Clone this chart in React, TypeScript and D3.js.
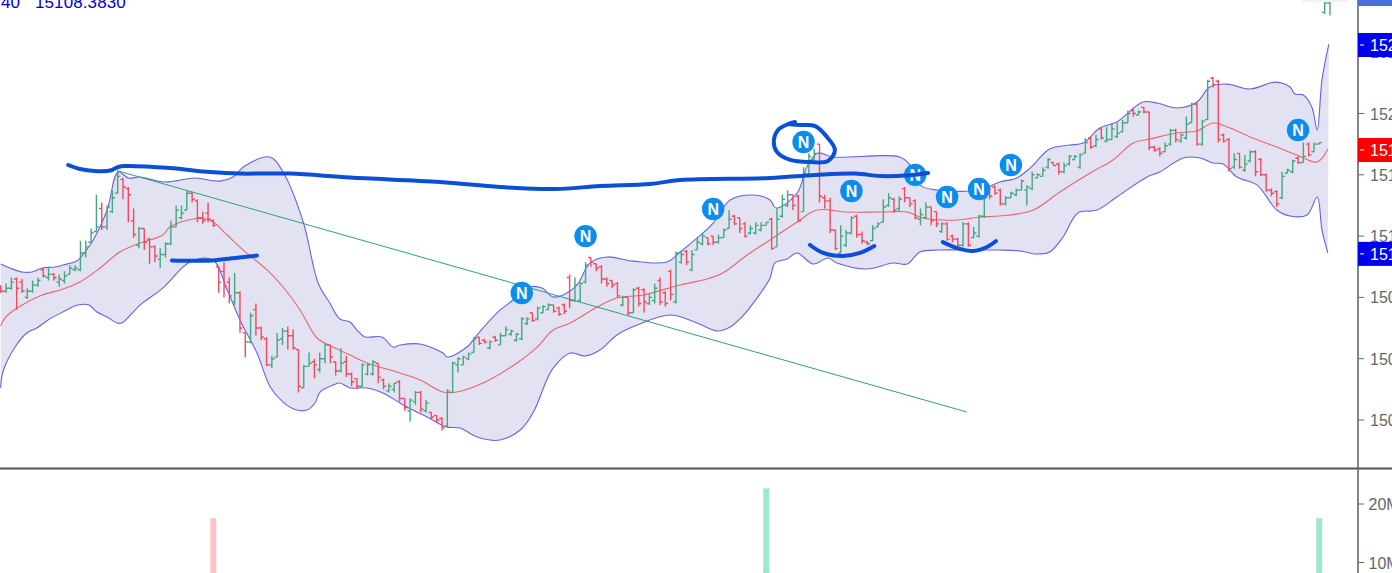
import React from "react";
import * as d3 from "d3";

const opens = [15087,15084,15086,15092,15090,15080,15084,15088,15098,15093,
15095,15090,15091,15095,15098,15098,15109,15116,15123,15138,
15126,15136,15148,15157,15151,15130,15114,15125,15118,15113,
15105,15108,15115,15126,15132,15137,15148,15143,15132,15135,
15130,15100,15097,15090,15077,15083,15057,15051,15072,15060,
15053,15036,15041,15053,15058,15055,15046,15021,15035,15038,
15033,15040,15049,15038,15032,15038,15030,15027,15022,15030,
15030,15037,15026,15019,15020,15025,15014,15006,15012,15018,
15006,15005,15003,15001,14996,15018,15036,15036,15040,15044,
15054,15052,15047,15054,15049,15055,15056,15052,15053,15063,
15070,15066,15070,15072,15075,15073,15075,15093,15078,15078,
15090,15106,15102,15100,15092,15091,15089,15075,15080,15070,
15086,15085,15076,15078,15091,15083,15097,15077,15103,15110,
15098,15111,15115,15119,15120,15116,15119,15125,15133,15132,
15128,15122,15122,15124,15127,15131,15113,15133,15140,15147,
15146,15136,15160,15170,15180,15145,15143,15124,15109,15114,
15122,15133,15121,15116,15117,15126,15129,15140,15144,15138,
15151,15145,15143,15131,15132,15139,15136,15123,15128,15120,
15118,15114,15128,15119,15120,15133,15152,15152,15150,15141,
15145,15147,15150,15150,15151,15158,15159,15165,15168,15167,
15162,15167,15170,15165,15174,15184,15179,15190,15182,15183,
15185,15188,15194,15202,15199,15204,15201,15178,15177,15175,
15180,15189,15182,15184,15194,15206,15180,15196,15223,15221,
15186,15183,15165,15174,15163,15169,15175,15170,15160,15150,
15149,15145,15161,15162,15171,15168,15180,15175,15180,15266,15272];

const highs = [15088,15089,15093,15093,15092,15086,15091,15093,15099,15100,
15096,15095,15097,15101,15101,15117,15117,15125,15147,15142,
15140,15150,15163,15158,15152,15138,15126,15125,15119,15114,
15112,15116,15130,15140,15140,15150,15149,15144,15136,15142,
15131,15100,15103,15093,15096,15084,15057,15070,15076,15061,
15054,15042,15057,15060,15061,15059,15046,15036,15044,15040,
15044,15050,15049,15038,15047,15042,15031,15027,15037,15037,
15039,15037,15027,15024,15024,15026,15014,15014,15019,15019,
15013,15005,15003,15002,15020,15038,15041,15042,15044,15054,
15054,15053,15052,15055,15057,15061,15059,15057,15067,15067,
15070,15074,15075,15076,15075,15074,15076,15095,15093,15090,
15103,15106,15102,15101,15093,15091,15090,15081,15080,15086,
15087,15086,15082,15089,15093,15084,15098,15110,15110,15111,
15111,15119,15122,15119,15120,15121,15125,15137,15134,15132,
15129,15127,15129,15129,15129,15132,15138,15147,15150,15147,
15147,15165,15174,15177,15180,15147,15145,15124,15127,15124,
15133,15134,15123,15117,15127,15129,15144,15148,15145,15146,
15152,15145,15144,15138,15142,15139,15136,15129,15129,15121,
15119,15129,15129,15126,15134,15147,15153,15153,15151,15146,
15149,15151,15157,15153,15162,15161,15165,15171,15168,15168,
15168,15173,15173,15174,15184,15185,15186,15191,15191,15194,
15194,15196,15202,15203,15202,15204,15201,15179,15178,15181,
15190,15190,15187,15198,15207,15207,15196,15222,15224,15222,
15187,15184,15174,15174,15173,15176,15176,15171,15161,15151,
15150,15162,15164,15170,15172,15181,15181,15181,15181,15277,15277];

const lows = [15083,15083,15085,15072,15083,15079,15083,15087,15093,15091,
15091,15087,15089,15095,15097,15097,15106,15116,15123,15124,
15124,15135,15148,15144,15129,15119,15112,15111,15102,15103,
15099,15106,15114,15126,15131,15137,15142,15129,15128,15129,
15126,15083,15080,15076,15075,15057,15041,15050,15055,15052,
15035,15034,15041,15049,15046,15046,15018,15021,15035,15027,
15031,15037,15037,15029,15031,15028,15022,15020,15022,15029,
15029,15024,15020,15018,15018,15012,15006,14999,15010,15005,
15005,15000,14998,14993,14995,15018,15031,15036,15039,15044,
15049,15050,15046,15051,15049,15055,15055,15051,15052,15062,
15064,15065,15070,15072,15070,15068,15069,15073,15077,15077,
15089,15100,15097,15089,15087,15086,15080,15074,15068,15070,
15074,15070,15075,15076,15075,15074,15078,15076,15102,15101,
15097,15111,15114,15114,15114,15115,15119,15125,15127,15122,
15119,15121,15121,15123,15127,15111,15113,15132,15139,15137,
15129,15136,15159,15170,15142,15138,15122,15111,15109,15113,
15121,15119,15115,15114,15117,15126,15129,15139,15135,15136,
15142,15139,15131,15127,15131,15127,15126,15122,15117,15116,
15113,15113,15113,15119,15119,15132,15144,15147,15140,15140,
15145,15146,15150,15140,15150,15158,15159,15164,15166,15160,
15161,15166,15170,15164,15174,15177,15178,15183,15181,15183,
15184,15188,15194,15198,15199,15200,15176,15175,15172,15175,
15179,15181,15181,15183,15194,15179,15179,15196,15217,15181,
15181,15162,15164,15164,15162,15168,15159,15159,15149,15146,
15139,15144,15161,15161,15167,15168,15172,15175,15180,15265,15264];

const closes = [15084,15086,15090,15086,15084,15084,15088,15091,15094,15095,
15093,15092,15094,15099,15099,15109,15113,15122,15126,15126,
15139,15145,15159,15152,15147,15121,15125,15116,15113,15107,
15108,15115,15126,15137,15135,15148,15144,15132,15130,15131,
15127,15090,15087,15081,15083,15060,15051,15068,15060,15054,
15036,15040,15052,15058,15055,15047,15022,15035,15037,15036,
15040,15049,15041,15032,15037,15030,15025,15022,15036,15036,
15038,15028,15022,15022,15024,15014,15008,15013,15018,15007,
15011,15002,15000,14995,15019,15037,15040,15041,15043,15053,
15050,15051,15051,15052,15055,15059,15058,15056,15066,15066,
15065,15073,15074,15075,15071,15069,15071,15078,15088,15089,
15101,15103,15099,15092,15089,15088,15081,15080,15070,15085,
15076,15077,15080,15086,15077,15076,15082,15109,15108,15103,
15108,15116,15120,15115,15116,15119,15124,15131,15128,15125,
15120,15125,15127,15127,15129,15112,15131,15144,15147,15140,
15130,15161,15172,15174,15146,15143,15124,15112,15120,15122,
15132,15121,15117,15115,15125,15128,15139,15145,15137,15144,
15145,15141,15132,15134,15139,15130,15128,15128,15118,15118,
15114,15128,15114,15122,15133,15145,15146,15148,15141,15145,
15148,15150,15156,15152,15160,15160,15163,15170,15166,15162,
15166,15172,15172,15173,15181,15178,15183,15184,15183,15190,
15187,15194,15200,15200,15201,15201,15178,15176,15174,15179,
15189,15183,15186,15193,15206,15180,15195,15221,15219,15183,
15182,15164,15170,15165,15167,15175,15162,15160,15150,15148,
15141,15159,15163,15169,15168,15172,15173,15180,15181,15272,15277];

const upperIndex = [0,1.7,4,5.9,7.8,10.2,11.7,14.3,15.1,17.4,20,22.1,24,26.2,30.9,36.5,41.2,43.7,45.9,50.6,53.1,56.9,59.7,61.9,63.8,65.7,67,68.5,71.7,73.8,75.1,78.9,83.2,84,87.7,89.6,93.3,96.4,99.5,101.8,103.9,105.8,108.4,110.8,114,118.9,125.3,127.8,131,134,137.2,141.5,144.7,145.8,149.8,151.6,153.7,156.5,169.1,171,172.9,176.1,184.2,187.9,191.1,193.6,197.3,201.1,203.6,206.7,209.9,214.8,217.5,221.2,225,227.4,230.6,235,239.8,242.5,243.4,245,246.6,247.6,248.5,249.8];
const upperPrice = [15101.8,15099.2,15096.6,15096.6,15099.2,15099.8,15101.1,15103.7,15106.4,15117.5,15137,15161.8,15157.9,15158.6,15155.3,15157.9,15155.9,15158.6,15165.7,15171.6,15161.8,15129.2,15089.4,15076.3,15065.9,15063.9,15058.7,15054.2,15054.2,15047.6,15048.9,15049.6,15043.7,15041.1,15047.6,15055.5,15069.8,15078.3,15086.8,15086.1,15080.3,15081.6,15088.1,15102.4,15106.4,15103.7,15103.1,15109.6,15118.8,15128.5,15143.6,15146.8,15143.6,15138.3,15148.1,15165.1,15174.2,15171.6,15171.6,15166.4,15153.3,15150.1,15150.1,15155.3,15157.9,15164.4,15176.8,15179.4,15180.7,15190.5,15194.4,15207.5,15206.8,15203.6,15207.5,15217.3,15219.2,15216,15220.5,15217.3,15212.7,15212.1,15204.2,15189.2,15221.9,15245.3];

const lowerIndex = [0,0.4,2.7,4.9,6.8,8.9,11.7,14.5,16.6,18.1,20,21.9,22.8,26.2,30.5,35.6,39.9,42.6,45,48.2,50.7,53.1,55.7,57.6,59.1,60.1,62.5,63.8,65.7,68.9,71.9,75.1,77.5,80.2,83.9,86.4,89.6,93.9,97.7,100.1,102.7,103.9,107.1,109.9,112.7,115.9,119.7,125.9,131,134.7,137.2,139.6,142.4,144.7,145.6,147.9,149.8,152.8,155.6,157.3,162.9,167.8,170.5,172.9,176.7,181.7,187.9,191.7,194.9,197.3,199.8,202.6,206.2,209.9,215.6,218,222.4,225.6,228,229.9,232.5,236.3,240,242.5,245.7,247.6,248.5,249.6];
const lowerPrice = [15020.9,15031.3,15047.6,15056.8,15060,15065.3,15070.5,15075,15075,15070.5,15067.2,15063.3,15063.3,15075,15086.1,15103.1,15104.4,15084.8,15065.3,15043.7,15021.5,15011.7,15006.5,15006.5,15011.1,15018.3,15022.8,15024.1,15020.9,15020.9,15017.6,15011.1,15006.5,15002,14995.4,14994.8,14988.9,14986.9,14993.5,15004.6,15026.1,15033.9,15043.7,15041.8,15045.7,15055.5,15062,15068.5,15063.3,15058.1,15060.7,15067.9,15080.3,15092.7,15102.4,15105.1,15109,15101.8,15105.7,15102.4,15098.5,15102.4,15101.8,15109.6,15110.9,15110.9,15110.9,15110.3,15108.3,15109.6,15119.4,15135.1,15137,15145.5,15158.6,15161.8,15171,15171,15167.7,15167,15158.6,15153.3,15137,15133.1,15133.8,15145.5,15124,15109];

const middleIndex = [0,0.8,3.1,7.8,11.2,14.9,18.7,22.4,26.2,30.5,31.8,36.2,39.4,42.6,45.6,50.1,53.1,56.3,59.5,62.5,65.7,68.9,75.1,78.9,83.2,85.8,90.7,97.1,100.9,103.9,107.1,112.2,115.9,120.8,127.8,132.8,135.8,140.4,144.7,149.8,153.5,159.2,165.4,170.5,173.5,179.9,184.2,187.9,194.2,199.2,204.9,209.2,213,216.2,221.2,225,228,231.2,235,240,243.8,247.6,249.6];
const middlePrice = [15061.3,15066.6,15073.1,15081.6,15084.8,15090,15099.2,15109.6,15115.5,15120.7,15125.9,15131.2,15130.5,15120.7,15110.9,15097.9,15086.8,15071.8,15053.5,15047.6,15042.4,15037.2,15030.7,15026.1,15018.3,15018.3,15024.1,15037.2,15047.6,15058.7,15063.3,15073.7,15079.6,15081.6,15088.1,15092,15095.9,15107.7,15117.5,15129.2,15137,15135.7,15135.7,15135.7,15131.8,15130.5,15132.5,15133.1,15137,15148.8,15161.2,15169.7,15180.7,15183.4,15187.3,15188.6,15193.8,15190.5,15184.7,15178.1,15172.9,15168.3,15176.8];

const volumeIndex = [40,144,248];
const volumeValues = [17.5e6,22.6e6,17.5e6];
const volumeUp = [false,true,true];

const priceTicks = [15000,15040,15080,15120,15160,15200,15240];
const priceTags = [
  { label: "15245", price: 15244.7, color: "#0000f0" },
  { label: "15176", price: 15176.2, color: "#ff0000" },
  { label: "15108", price: 15108.4, color: "#0000f0" },
];
const volumeTicks = [10e6,20e6];

const markerIndex = [98,110,134,151,160,172,178,184,190,244];
const markerPrice = [15082.9,15120,15137.7,15181.4,15149.4,15159.9,15145.5,15150.7,15166.4,15189.2];

const trendIndex = [22.1,181.7];
const trendPrice = [15162.5,15005.2];

const longStrokeIndex = [12.7,14.9,17.7,20.6,22.1,23.4,31.8,39.4,45,54.4,65.7,82.6,93.9,104.3,112.7,122.1,127.8,144.7,153.2,160.7,165.4,170.1,174.4];
const longStrokePrice = [15166.4,15163.8,15162.5,15162.8,15165.1,15165.7,15164.4,15161.8,15160.8,15160.8,15158.2,15155.3,15152,15150.7,15152.7,15154,15156.6,15157.9,15159.9,15160.8,15159.2,15159.5,15161.2];
const shortStrokeIndex = [32.2,39.7,44.1,48.2];
const shortStrokePrice = [15104.1,15104.1,15105.7,15107.3];
const smileAIndex = [152.2,154.7,158.4,161.6,164.3];
const smileAPrice = [15114.2,15109,15107,15109,15113.5];
const smileBIndex = [177.2,179.9,182.9,185.5,187.2];
const smileBPrice = [15116.1,15112.2,15110.3,15112.9,15116.8];
const ringIndex = [149.4,148.1,146.2,145.4,146,148.5,152.2,155.6,156.9,155.4,153.2,150.3,148.1];
const ringPrice = [15194.4,15193.1,15189.2,15181.4,15174.9,15169.7,15168.3,15169,15176.2,15184.7,15191.8,15192.5,15193.1];

const WIDTH = 1392;
const HEIGHT = 573;
const AXIS_X = 1358;
const GREEN = "#43a87f";
const RED = "#f24a60";
const FONT = "'Liberation Sans', Arial, sans-serif";

const x = d3.scaleLinear().domain([0, 248]).range([0.7, 1319.3]);
const y = d3.scaleLinear().domain([15000, 15240]).range([420, 52.2]);
const vy = d3.scaleLinear().domain([10e6, 20e6]).range([562.5, 504]);

type Pt = [number, number];
const zip = (xs: number[], ys: number[]): Pt[] => xs.map((v, i) => [v, ys[i]]);
const plainLine = d3.line<Pt>().x((d) => x(d[0])).y((d) => y(d[1]));
const softLine = d3.line<Pt>().x((d) => x(d[0])).y((d) => y(d[1])).curve(d3.curveCatmullRom.alpha(0.5));

const upperPts = zip(upperIndex, upperPrice);
const lowerPts = zip(lowerIndex, lowerPrice);
const middlePts = zip(middleIndex, middlePrice);
const bandFill = softLine(upperPts)! + "L" + softLine([...lowerPts].reverse())!.slice(1) + "Z";

function barPath(i: number): string {
  const p = d3.path();
  const cx = x(i);
  p.moveTo(cx, y(highs[i]));
  p.lineTo(cx, y(lows[i]));
  p.moveTo(cx - 2.7, y(opens[i]));
  p.lineTo(cx, y(opens[i]));
  p.moveTo(cx, y(closes[i]));
  p.lineTo(cx + 2.7, y(closes[i]));
  return p.toString();
}

const strokes: Pt[][] = [
  zip(longStrokeIndex, longStrokePrice),
  zip(shortStrokeIndex, shortStrokePrice),
  zip(smileAIndex, smileAPrice),
  zip(smileBIndex, smileBPrice),
  zip(ringIndex, ringPrice),
];

export default function App() {
  return (
    <svg
      width={WIDTH}
      height={HEIGHT}
      viewBox={`0 0 ${WIDTH} ${HEIGHT}`}
      style={{ position: "absolute", left: 0, top: 0, display: "block", background: "#fff" }}
    >
      <defs>
        <clipPath id="plot"><rect x={0} y={0} width={AXIS_X} height={468} /></clipPath>
      </defs>
      <g clipPath="url(#plot)">
        <path d={bandFill} fill="#e2e2f2" stroke="none" />
        <path d={softLine(upperPts)!} fill="none" stroke="#6464e0" strokeWidth={1.1} />
        <path d={softLine(lowerPts)!} fill="none" stroke="#6464e0" strokeWidth={1.1} />
        <path d={softLine(middlePts)!} fill="none" stroke="#e8666c" strokeWidth={1.1} />
        {opens.map((o, i) => (
          <path key={i} d={barPath(i)} fill="none" strokeWidth={1.4}
            stroke={closes[i] >= o ? GREEN : RED} />
        ))}
        <path d={plainLine(zip(trendIndex, trendPrice))!} fill="none" stroke="#2f9f80" strokeWidth={1} />
        {markerIndex.map((m, i) => (
          <g key={i}>
            <circle cx={x(m)} cy={y(markerPrice[i])} r={11.2} fill="#0c8cee" />
            <text x={x(m)} y={y(markerPrice[i]) + 5.7} textAnchor="middle" fill="#fff"
              fontFamily={FONT} fontWeight={700} fontSize={16}>N</text>
          </g>
        ))}
        {strokes.map((s, i) => (
          <path key={i} d={softLine(s)!} fill="none" stroke="#0b4fd6" strokeWidth={4}
            strokeLinecap="round" strokeLinejoin="round" />
        ))}
      </g>

      {volumeIndex.map((v, i) => (
        <rect key={v} x={x(v) - 2.6} width={5.2} y={vy(volumeValues[i])} height={HEIGHT - vy(volumeValues[i])}
          fill={volumeUp[i] ? "#9aeacb" : "#ffc2c4"} stroke={volumeUp[i] ? "#8de0c0" : "#ffb8bc"} strokeWidth={0.5} />
      ))}

      <rect x={1302} y={0} width={46} height={2} fill="#f2f2f2" />
      <line x1={0} x2={WIDTH} y1={468.5} y2={468.5} stroke="#555" strokeWidth={1.8} />
      <line x1={AXIS_X} x2={AXIS_X} y1={0} y2={HEIGHT} stroke="#666" strokeWidth={1.6} />

      {priceTicks.map((t) => (
        <g key={t}>
          <line x1={AXIS_X} x2={AXIS_X + 6} y1={y(t)} y2={y(t)} stroke="#666" strokeWidth={1} />
          <text x={1370} y={y(t) + 6} fill="#666" fontFamily={FONT} fontSize={16}>{t}</text>
        </g>
      ))}
      {volumeTicks.map((t) => (
        <g key={t}>
          <line x1={AXIS_X} x2={AXIS_X + 6} y1={vy(t)} y2={vy(t)} stroke="#666" strokeWidth={1} />
          <text x={1368.5} y={vy(t) + 6} fill="#666" fontFamily={FONT} fontSize={16}>{d3.format(".0f")(t / 1e6)}M</text>
        </g>
      ))}
      {priceTags.map((t) => (
        <g key={t.label}>
          <rect x={AXIS_X} y={y(t.price) - 12} width={WIDTH - AXIS_X} height={24} fill={t.color} />
          <line x1={AXIS_X + 2} x2={AXIS_X + 6} y1={y(t.price)} y2={y(t.price)} stroke="#fff" strokeWidth={1} />
          <text x={1370} y={y(t.price) + 6} fill="#fff" fontFamily={FONT} fontSize={16}>{t.label}</text>
        </g>
      ))}
      <rect x={AXIS_X} y={0} width={WIDTH - AXIS_X} height={6} fill="#4a6fdc" />

      <text x={1} y={8} fill="#0000d0" fontFamily={FONT} fontSize={17}>40</text>
      <text x={35} y={8} fill="#0000d0" fontFamily={FONT} fontSize={17} letterSpacing={0.1}>15108.3830</text>
    </svg>
  );
}
